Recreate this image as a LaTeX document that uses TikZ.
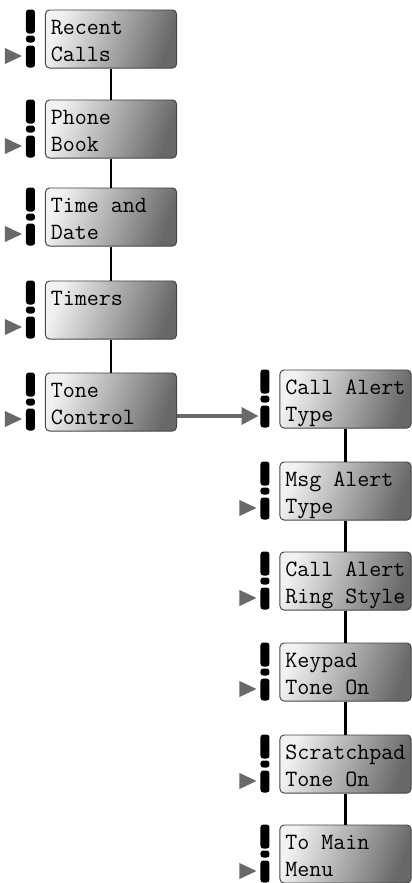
\documentclass[tikz,border=0pt]{standalone}
\usepackage{fontspec}
\usetikzlibrary{arrows.meta,calc}
\definecolor{pointer}{RGB}{105,105,105}
\definecolor{boxline}{RGB}{70,70,70}
\definecolor{boxlight}{RGB}{242,242,242}
\definecolor{boxdark}{RGB}{104,104,104}

\begin{document}
\begin{tikzpicture}[x=0.025cm,y=-0.025cm,
    menubox/.style={draw=boxline,line width=0.7pt,rounded corners=0.1cm,
      left color=boxlight,right color=boxdark,shading angle=70,
      minimum width=3.275cm,minimum height=1.45cm,inner sep=0pt},
    menutext/.style={anchor=base west,align=left,inner sep=0pt,
      font=\ttfamily\fontsize{16.6}{19.2}\selectfont},
    link/.style={line width=1.6pt,black},
    blob/.style={fill=black,rounded corners=0.07cm},
    pointertip/.style={fill=pointer},
    gotoarrow/.style={draw=pointer,line width=2.6pt,-{Triangle[length=12pt,width=12pt]}}]
  \useasboundingbox (0,0) rectangle (412,883);

  % main menu
  \node[menubox] (recent) at (111,39) {};
  \node[menubox] (phone) at (111,129) {};
  \node[menubox] (timedate) at (111,217) {};
  \node[menubox] (timers) at (111,310) {};
  \node[menubox] (tone) at (111,402) {};
  % tone control submenu
  \node[menubox] (callalert) at (345.5,399) {};
  \node[menubox] (msgalert) at (345.5,491) {};
  \node[menubox] (ringstyle) at (345.5,581) {};
  \node[menubox] (keypad) at (345.5,672) {};
  \node[menubox] (scratch) at (345.5,764) {};
  \node[menubox] (tomain) at (345.5,854) {};

  % labels: base is the last line
  \node[menutext] (recent-t) at ($(recent.north west)+(5.5,51.5)$) {Recent\\Calls};
  \node[menutext] (phone-t) at ($(phone.north west)+(5.5,51.5)$) {Phone\\Book};
  \node[menutext] (timedate-t) at ($(timedate.north west)+(5.5,51.5)$) {Time and\\Date};
  \node[menutext] (timers-t) at ($(timers.north west)+(5.5,24.5)$) {Timers};
  \node[menutext] (tone-t) at ($(tone.north west)+(5.5,51.5)$) {Tone\\Control};
  \node[menutext] (callalert-t) at ($(callalert.north west)+(5.5,51.5)$) {Call Alert\\Type};
  \node[menutext] (msgalert-t) at ($(msgalert.north west)+(5.5,51.5)$) {Msg Alert\\Type};
  \node[menutext] (ringstyle-t) at ($(ringstyle.north west)+(5.5,51.5)$) {Call Alert\\Ring Style};
  \node[menutext] (keypad-t) at ($(keypad.north west)+(5.5,51.5)$) {Keypad\\Tone On};
  \node[menutext] (scratch-t) at ($(scratch.north west)+(5.5,51.5)$) {Scratchpad\\Tone On};
  \node[menutext] (tomain-t) at ($(tomain.north west)+(5.5,51.5)$) {To Main\\Menu};

  % display marks left of every box
  \foreach \n in {recent,phone,timedate,timers,tone,callalert,msgalert,ringstyle,keypad,scratch,tomain}{
    \path[blob] ($(\n.north west)+(-19,0)$) rectangle ($(\n.north west)+(-10,24)$);
    \path[blob] ($(\n.north west)+(-19,26)$) rectangle ($(\n.north west)+(-10,33)$);
    \path[blob] ($(\n.north west)+(-19,36)$) rectangle ($(\n.north west)+(-10,58)$);
  }
  \foreach \n in {recent,phone,timedate,timers,tone,msgalert,ringstyle,keypad,scratch,tomain}
    \fill[pointertip] ($(\n.north west)+(-40,38.5)$) -- ($(\n.north west)+(-40,54.5)$)
      -- ($(\n.north west)+(-23,46.5)$) -- cycle;

  \draw[link] (recent) -- (phone);
  \draw[link] (phone) -- (timedate);
  \draw[link] (timedate) -- (timers);
  \draw[link] (timers) -- (tone);
  \draw[link] (callalert) -- (msgalert);
  \draw[link] (msgalert) -- (ringstyle);
  \draw[link] (ringstyle) -- (keypad);
  \draw[link] (keypad) -- (scratch);
  \draw[link] (scratch) -- (tomain);

  \coordinate (callin) at ($(callalert.north west)+(-21,46.5)$);
  \draw[gotoarrow] (tone.east |- callin) -- (callin);
\end{tikzpicture}
\end{document}
